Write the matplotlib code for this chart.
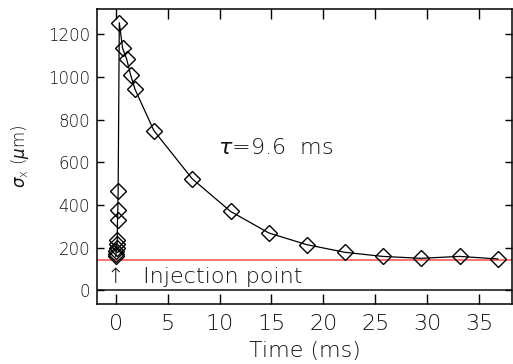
import numpy as np
import matplotlib
matplotlib.use('Agg')
import matplotlib.pyplot as plt

# beam size vs time after injection
time_ms = [0.0, 0.03, 0.06, 0.09, 0.12, 0.15, 0.18, 0.21, 0.24, 0.35,
           0.67, 1.06, 1.44, 1.86, 3.68, 7.37, 11.06, 14.74, 18.4,
           22.1, 25.7, 29.4, 33.1, 36.8]
sigma_x = [160, 170, 185, 200, 215, 237, 331, 378, 467, 1255,
           1135, 1084, 1010, 943, 749, 523, 370, 269, 214,
           178, 159, 150, 159, 147]
inj_level = 140
tau_ms = 9.6

plt.rcParams['font.family'] = ['DejaVu Sans']
plt.rcParams['font.weight'] = 'light'
plt.rcParams['axes.labelweight'] = 'light'
plt.rcParams['mathtext.fontset'] = 'custom'
plt.rcParams['mathtext.rm'] = 'DejaVu Sans:light'
plt.rcParams['mathtext.it'] = 'DejaVu Sans:italic:light'
txt = '#111111'

fig = plt.figure(figsize=(5.13, 3.64), dpi=100)
ax = fig.add_axes([0.189, 0.165, 0.81, 0.81])

ax.axhline(0, color='#333333', lw=1.3, zorder=1)
ax.axhline(inj_level, color='#ff5a5a', lw=1.2, zorder=2)
ax.plot(time_ms, sigma_x, color='black', lw=0.9, marker='D', ms=8,
        mfc='none', mec='black', mew=1.0, zorder=3)

ax.text(0, 36, u'\u2191', ha='center', va='baseline', fontsize=15, color=txt)
ax.text(2.6, 36, 'Injection point', ha='left', va='baseline',
        fontsize=16, color=txt)
ax.text(9.85, 640, r'$\tau$=%.1f  ms' % tau_ms, ha='left', va='baseline',
        fontsize=16, color=txt)

ax.set_xlim(-1.8, 38.2)
ax.set_ylim(-64, 1319)
ax.set_xticks(np.arange(0, 36, 5))
ax.set_yticks(np.arange(0, 1201, 200))
ax.tick_params(axis='x', direction='in', length=7, width=1, labelsize=16,
               top=True, labelcolor=txt, pad=7)
ax.tick_params(axis='y', direction='in', length=5, width=1, labelsize=12,
               right=True, labelcolor=txt, pad=5)
for s in ax.spines.values():
    s.set_linewidth(1.1)

ax.set_xlabel('Time (ms)', fontsize=16, color=txt, labelpad=5)
ax.set_ylabel(r'$\sigma_{\rm x}$ ($\mu$m)', fontsize=12, color=txt, labelpad=12)

fig.savefig('out.png', dpi=100)
